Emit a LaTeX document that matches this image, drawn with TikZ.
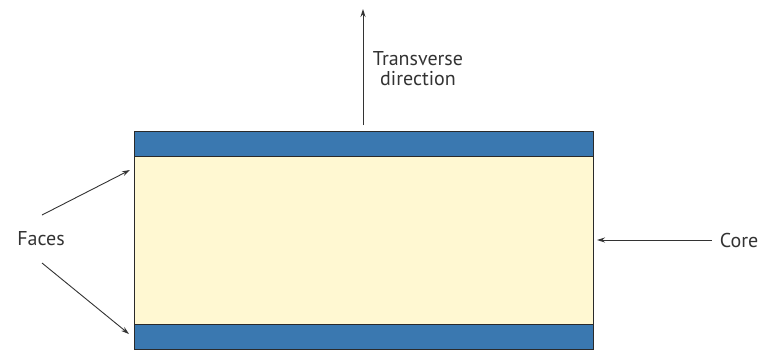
\documentclass[tikz,border=0pt]{standalone}
\usepackage{fontspec}
\setmainfont{PT Sans}
\usetikzlibrary{arrows.meta}
\definecolor{faceblue}{HTML}{3A78B0}
\definecolor{corecream}{HTML}{FFF8D2}
\definecolor{edge}{HTML}{2A2A2A}
\tikzset{
  lbl/.style={font=\fontsize{20}{20}\selectfont, text=black!80, inner sep=0pt, align=center},
  pointer/.style={draw=black!80, line width=0.9pt, -{Stealth[length=8pt,width=5pt]}},
  facebox/.style={fill=faceblue, draw=edge, line width=1pt},
  corebox/.style={fill=corecream, draw=edge, line width=1pt}
}
\begin{document}
\begin{tikzpicture}[x=1pt,y=-1pt]
\useasboundingbox (0,0) rectangle (760,349);
\fill[white] (0,0) rectangle (760,349);
\path[corebox] (134,156) rectangle (593,324);
\path[facebox] (134,131) rectangle (593,156);
\path[facebox] (134,324) rectangle (593,349.5);
\coordinate (topface) at (130,170);
\coordinate (botface) at (129,334);
\coordinate (coreedge) at (597,240);
\coordinate (trbase) at (363,125);
\coordinate (trtip) at (363,9);
\coordinate (fup) at (42,215);
\coordinate (fdown) at (42,263);
\node[lbl] (faces) at (41,239) {Faces};
\node[lbl] (core) at (739,240) {Core};
\node[lbl] (trans) at (418,69) {Transverse\\direction};
\draw[pointer] (fup) -- (topface);
\draw[pointer] (fdown) -- (botface);
\draw[pointer] ([xshift=-8pt]core.west) -- (coreedge);
\draw[pointer] (trbase) -- (trtip);
\end{tikzpicture}
\end{document}
